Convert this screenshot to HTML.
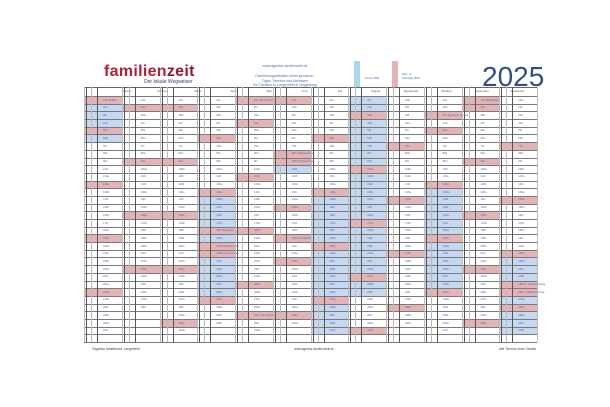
<!DOCTYPE html>
<html><head><meta charset="utf-8"><style>
html,body{margin:0;padding:0;background:#fff;}
body{width:610px;height:407px;position:relative;overflow:hidden;font-family:"Liberation Sans",sans-serif;}
.a{position:absolute;}
.t{position:absolute;font-size:2.6px;color:#4a6fb0;white-space:nowrap;line-height:3px;}
</style></head><body>
<div class="a" style="left:104px;top:63px;font-size:16px;font-weight:bold;color:#b3203a;letter-spacing:0.3px;line-height:18px;">familien<span style="color:#8e1b30">zeit</span></div>
<div class="a" style="left:144px;top:80px;font-size:5px;color:#2d3f66;line-height:5px;">Der lokale Wegweiser</div>
<div class="a" style="left:230px;top:64px;width:110px;text-align:center;font-size:3.6px;color:#4a6fb0;line-height:5px;">www.agentur-familienzeit.de</div>
<div class="a" style="left:225px;top:74px;width:120px;text-align:center;font-size:3.6px;color:#4a6fb0;line-height:4.6px;">Familienorganisation leicht gemacht -<br>Tipps, Termine und Adressen<br>für Familien in Langenfeld &amp; Umgebung</div>
<div class="a" style="left:354px;top:61px;width:6px;height:27px;background:#a9d8e6;"></div>
<div class="a" style="left:365px;top:77px;font-size:2.6px;color:#4a6fb0;">Ferien NRW</div>
<div class="a" style="left:392px;top:61px;width:6px;height:27px;background:#e4b3b6;"></div>
<div class="a" style="left:402px;top:73px;font-size:2.6px;color:#4a6fb0;line-height:3.5px;">Beim- &amp;<br>Feiertage NRW</div>
<div class="a" style="left:482px;top:62px;font-size:28px;color:#2d4f8a;line-height:30px;">2025</div>
<div id="g"></div>
<div class="a" style="left:92px;top:347px;font-size:3.2px;color:#444;">©agentur familienzeit, Langenfeld</div>
<div class="a" style="left:294px;top:347px;font-size:3.2px;color:#444;">www.agentur-familienzeit.de</div>
<div class="a" style="left:499px;top:347px;font-size:3.2px;color:#444;">Alle Termine ohne Gewähr</div>
<script>
var months=["Januar","Februar","März","April","Mai","Juni","Juli","August","September","Oktober","November","Dezember"];
var dn=["So","Mo","Di","Mi","Do","Fr","Sa"];
var dim=[31,28,31,30,31,30,31,31,30,31,30,31];
var hol={"0-1":"Neujahr","3-18":"Karfreitag","3-21":"Ostermontag","4-1":"Tag der Arbeit","4-29":"Chr. Himmelfahrt","5-8":"Pfingstsonntag","5-9":"Pfingstmontag","5-19":"Fronleichnam","9-3":"Tag der dt. Einheit","10-1":"Allerheiligen","11-25":"1. Weihnachtstag","11-26":"2. Weihnachtstag","3-20":"Ostersonntag"};
function fer(m,d){return (m==0&&d<=6)||(m==3&&d>=14&&d<=26)||(m==5&&d==10)||(m==6&&d>=14)||(m==7&&d<=26)||(m==9&&d>=13&&d<=25)||(m==11&&d>=22);}
var L=84,R=537,T=87,H0=96,rh=7.69,mw=(R-L)/12,h="";
for(var m=0;m<12;m++){
 var x=L+m*mw;
 for(var d=1;d<=dim[m];d++){
  var wd=new Date(2025,m,d).getDay();
  var y=H0+(d-1)*rh;
  var k=m+"-"+d,c=null;
  if(wd==0||hol[k])c="#e4b3b6";else if(fer(m,d))c="#c6d8ef";
  if(c)h+='<div class="a" style="left:'+x+'px;top:'+y+'px;width:'+mw+'px;height:'+rh+'px;background:'+c+'"></div>';
  h+='<div class="t" style="left:'+(x+19)+'px;top:'+(y+2.5)+'px">'+d+dn[wd]+(hol[k]?' '+hol[k]:'')+'</div>';
 }
 h+='<div class="t" style="left:'+(127+35.5*m-10)+'px;top:'+(T+3)+'px;width:20px;text-align:center;font-size:3px;color:#555">'+months[m]+'</div>';
}
for(var r=0;r<=32;r++){h+='<div class="a" style="left:'+L+'px;top:'+(H0+r*rh)+'px;width:'+(R-L)+'px;height:1px;background:#7a7a7a"></div>';}
h+='<div class="a" style="left:'+L+'px;top:'+T+'px;width:'+(R-L)+'px;height:1px;background:#666"></div>';
for(var m=0;m<12;m++){var x=L+m*mw;
 h+='<div class="a" style="left:'+x+'px;top:'+T+'px;width:1px;height:'+(H0+32*rh-T)+'px;background:#bbb"></div>';
 h+='<div class="a" style="left:'+(x+2)+'px;top:'+T+'px;width:1px;height:'+(H0+32*rh-T)+'px;background:#555"></div>';
 h+='<div class="a" style="left:'+(x+7)+'px;top:'+T+'px;width:1px;height:'+(H0+32*rh-T)+'px;background:#bbb"></div>';
 h+='<div class="a" style="left:'+(x+13)+'px;top:'+T+'px;width:1px;height:'+(H0+32*rh-T)+'px;background:#555"></div>';
}
h+='<div class="a" style="left:'+R+'px;top:'+T+'px;width:1px;height:'+(H0+32*rh-T)+'px;background:#bbb"></div>';
document.getElementById("g").innerHTML=h;
</script>
</body></html>
